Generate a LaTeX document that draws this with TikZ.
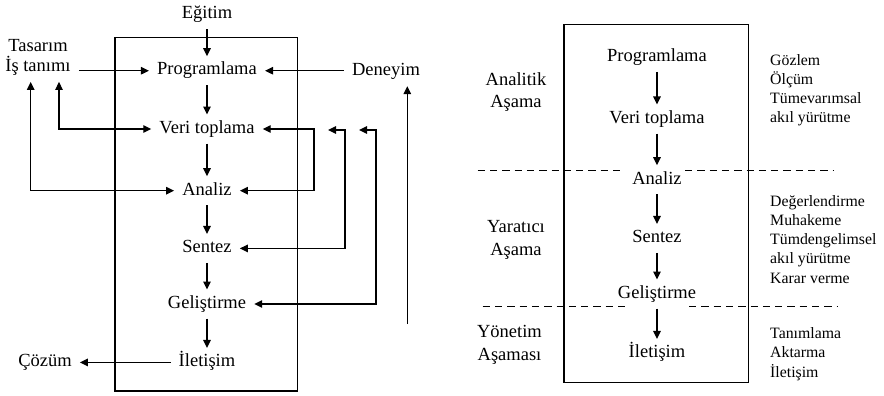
\documentclass[tikz,border=0pt]{standalone}
\usepackage{fontspec}
\setmainfont{Liberation Serif}
\usetikzlibrary{arrows.meta}
\begin{document}
\begin{tikzpicture}[x=1pt,y=-1pt,
  every node/.style={font=\fontsize{18.5}{22.6}\selectfont},
  stage/.style={inner xsep=8pt, inner ysep=6pt, text height=12.6pt, text depth=4pt},
  plain/.style={inner sep=2pt},
  flow/.style={line width=1.3pt, -{Triangle[length=8pt,width=7.5pt]}},
  both/.style={line width=1.3pt, {Triangle[length=8pt,width=7.5pt]}-{Triangle[length=8pt,width=7.5pt]}},
  frame/.style={line width=1.3pt},
  phase/.style={align=center, inner sep=0pt},
  notes/.style={align=left, anchor=north west, inner sep=0pt, font=\fontsize{15.8}{19.2}\selectfont},
  divider/.style={line width=1.3pt, dash pattern=on 7.3pt off 5pt}]
\useasboundingbox (0,0) rectangle (884,396);

% ---------- left: design process with feedback loops ----------
\draw[frame] (115,37.7) rectangle (297.7,391);

\node[stage] (egitim)   at (207,14.7)  {Eğitim};
\node[plain] (tasarim)  at (38,45.7)   {Tasarım};
\node[stage] (istanimi) at (38,67.4)   {İş tanımı};
\node[stage] (prog)     at (207,70.7)  {Programlama};
\node[stage] (deneyim)  at (386,71.7)  {Deneyim};
\node[stage] (veri)     at (207,129)   {Veri toplama};
\node[stage] (analiz)   at (207,190.7) {Analiz};
\node[stage] (sentez)   at (207,248.4) {Sentez};
\node[stage] (gelis)    at (207,304)   {Geliştirme};
\node[stage] (ilet)     at (207,362.4) {İletişim};
\node[stage] (cozum)    at (45,362.4)  {Çözüm};

% guide positions for the routed loops
\coordinate (lx1) at (59,0);
\coordinate (lx2) at (30.7,0);
\coordinate (rx1) at (314,0);
\coordinate (rx2) at (345,0);
\coordinate (rx3) at (376,0);
\coordinate (fb1) at (328,130);
\coordinate (fb2) at (359,130);
\coordinate (up)  at (407.3,324);

% main chain
\draw[flow] (egitim) -- (prog);
\draw[flow] (prog) -- (veri);
\draw[flow] (veri) -- (analiz);
\draw[flow] (analiz) -- (sentez);
\draw[flow] (sentez) -- (gelis);
\draw[flow] (gelis) -- (ilet);
\draw[flow] (ilet) -- (cozum);

% inputs into Programlama
\draw[flow] (istanimi.east |- prog.west) -- (prog.west);
\draw[flow] (deneyim.west |- prog.east) -- (prog.east);
\draw[flow] (up) -- (up |- deneyim.south);

% two-way links on the left
\draw[both] (istanimi.south -| lx1) |- (veri.west);
\draw[both] (istanimi.south -| lx2) |- (analiz.west);

% feedback loops on the right
\draw[both] (veri.east) -- (veri.east -| rx1) |- (analiz.east);
\draw[both] (fb1) -- (fb1 -| rx2) |- (sentez.east);
\draw[both] (fb2) -- (fb2 -| rx3) |- (gelis.east);

% ---------- right: phases of the process ----------
\draw[frame] (564,24.3) rectangle (748.3,382.3);

\node[stage] (prog2)   at (657,57.4)  {Programlama};
\node[stage] (veri2)   at (657,119)   {Veri toplama};
\node[stage] (analiz2) at (657,179.7) {Analiz};
\node[stage] (sentez2) at (657,238.4) {Sentez};
\node[stage] (gelis2)  at (657,294)   {Geliştirme};
\node[stage] (ilet2)   at (657,353.4) {İletişim};

\draw[flow] (prog2) -- (veri2);
\draw[flow] (veri2) -- (analiz2);
\draw[flow] (analiz2) -- (sentez2);
\draw[flow] (sentez2) -- (gelis2);
\draw[flow] (gelis2) -- (ilet2);

% phase boundaries
\coordinate (d1a) at (477.7,170.7);
\coordinate (d1b) at (625,170.7);
\coordinate (d1c) at (685,170.7);
\coordinate (d1d) at (833.3,170.7);
\coordinate (d2a) at (482.7,306.7);
\coordinate (d2b) at (628,306.7);
\coordinate (d2c) at (689,306.7);
\coordinate (d2d) at (837.3,306.7);
\draw[divider] (d1a) -- (d1b);
\draw[divider] (d1c) -- (d1d);
\draw[divider] (d2a) -- (d2b);
\draw[divider] (d2c) -- (d2d);

% phase names
\node[phase] (ph1) at (516,92)    {Analitik\\Aşama};
\node[phase] (ph2) at (516,239.9) {Yaratıcı\\Aşama};
\node[phase] (ph3) at (509.5,344.7) {Yönetim\\Aşaması};

% activities of each phase
\node[notes] (n1) at (770,54.2)  {Gözlem\\Ölçüm\\Tümevarımsal\\akıl yürütme};
\node[notes] (n2) at (770,195.2) {Değerlendirme\\Muhakeme\\Tümdengelimsel\\akıl yürütme\\Karar verme};
\node[notes] (n3) at (770,327.5) {Tanımlama\\Aktarma\\İletişim};
\end{tikzpicture}
\end{document}
